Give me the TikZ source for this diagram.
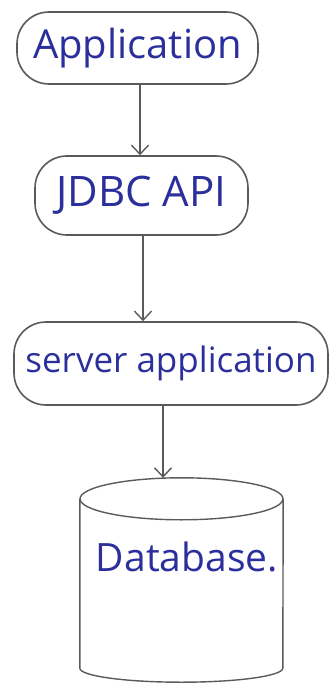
\documentclass[tikz,border=0pt]{standalone}
\usepackage{fontspec}
\setmainfont{Open Sans}
\usetikzlibrary{arrows.meta,calc}
\definecolor{ink}{HTML}{2B2F9C}
\definecolor{pencil}{HTML}{5A5A5A}
\tikzset{
  stadium/.style={draw=pencil, line width=1.6pt, rounded corners=32pt, text=ink,
    inner sep=0pt},
  arr/.style={draw=pencil, line width=1.4pt, -{Straight Barb[length=9pt,width=17pt,line width=1.4pt]}},
  dbline/.style={draw=pencil, line width=1.4pt},
  lbl/.style={text=ink, inner sep=0pt}
}
\begin{document}
\begin{tikzpicture}[x=1pt,y=-1pt]
\useasboundingbox (0,0) rectangle (329,684);
\node[stadium, minimum width=241pt, minimum height=72pt, font=\fontsize{40}{46}\selectfont] (app) at (137.5,48) {Application};
\node[stadium, minimum width=213pt, minimum height=79pt, font=\fontsize{42}{48}\selectfont] (jdbc) at (141.5,195.5) {JDBC API};
\node[stadium, minimum width=314pt, minimum height=83pt, font=\fontsize{35}{40}\selectfont] (srv) at (171,363.5) {server application};
% database cylinder
\node[minimum width=203pt, minimum height=204pt, inner sep=0pt] (db) at (181.5,580) {};
\draw[dbline] ($(db.north)+(0,21)$) ellipse [x radius=101.5, y radius=21];
\draw[dbline] ($(db.north west)+(0,21)$) -- ($(db.south west)+(0,-14)$)
  arc[start angle=180, end angle=0, x radius=101.5, y radius=14]
  -- ($(db.north east)+(0,21)$);
\node[lbl, font=\fontsize{39}{44}\selectfont] (dbl) at (187,557) {Database.};
% connectors
\draw[arr] (app.south -| 140,0) -- (jdbc.north -| 140,0);
\draw[arr] (jdbc.south -| 143,0) -- (srv.north -| 143,0);
\draw[arr] (srv.south -| 163,0) -- (db.north -| 163,0);
\end{tikzpicture}
\end{document}
